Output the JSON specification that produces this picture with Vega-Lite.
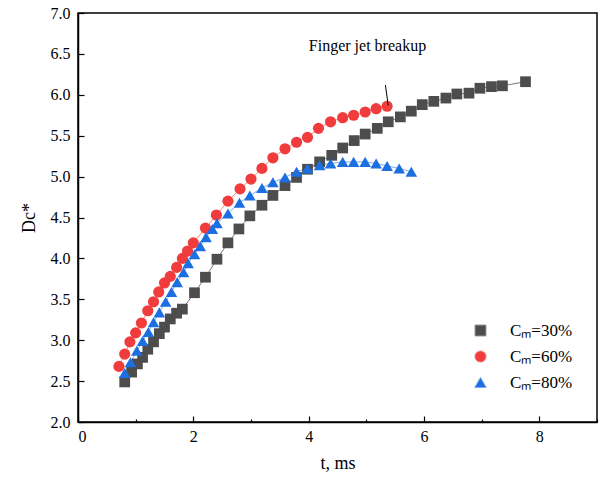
{
  "$schema": "https://vega.github.io/schema/vega-lite/v6.json",
  "width": 519,
  "height": 409,
  "autosize": {"type": "none"},
  "padding": {"left": 78, "top": 13, "right": 4, "bottom": 57},
  "background": "white",
  "config": {
    "view": {"stroke": "black", "strokeWidth": 1.5},
    "font": "Liberation Serif",
    "axis": {"grid": false, "domainColor": "black", "domainWidth": 1.5, "tickColor": "black", "tickWidth": 1.2, "labelFont": "Liberation Serif", "labelFontSize": 16, "labelColor": "black", "titleFont": "Liberation Serif", "titleFontSize": 18, "titleFontWeight": "normal", "titleColor": "black"},
    "legend": {"orient": "none", "legendX": 394, "legendY": 309, "symbolSize": 144, "rowPadding": 8, "labelOffset": 21, "labelFont": "Liberation Serif", "labelFontSize": 17, "labelColor": "black", "padding": 0}
  },
  "datasets": {
    "series": [
      {"s": "30%", "t": 0.81, "d": 2.49}, {"s": "30%", "t": 0.93, "d": 2.61}, {"s": "30%", "t": 1.03, "d": 2.71}, {"s": "30%", "t": 1.12, "d": 2.79}, {"s": "30%", "t": 1.21, "d": 2.89}, {"s": "30%", "t": 1.31, "d": 2.98}, {"s": "30%", "t": 1.41, "d": 3.08}, {"s": "30%", "t": 1.50, "d": 3.16}, {"s": "30%", "t": 1.60, "d": 3.26}, {"s": "30%", "t": 1.71, "d": 3.33}, {"s": "30%", "t": 1.81, "d": 3.38}, {"s": "30%", "t": 2.02, "d": 3.58}, {"s": "30%", "t": 2.21, "d": 3.77}, {"s": "30%", "t": 2.41, "d": 3.99}, {"s": "30%", "t": 2.60, "d": 4.19}, {"s": "30%", "t": 2.79, "d": 4.36}, {"s": "30%", "t": 2.98, "d": 4.52}, {"s": "30%", "t": 3.19, "d": 4.65}, {"s": "30%", "t": 3.38, "d": 4.77}, {"s": "30%", "t": 3.59, "d": 4.89}, {"s": "30%", "t": 3.79, "d": 4.99}, {"s": "30%", "t": 3.98, "d": 5.09}, {"s": "30%", "t": 4.19, "d": 5.18}, {"s": "30%", "t": 4.40, "d": 5.26}, {"s": "30%", "t": 4.59, "d": 5.35}, {"s": "30%", "t": 4.79, "d": 5.44}, {"s": "30%", "t": 4.98, "d": 5.52}, {"s": "30%", "t": 5.19, "d": 5.59}, {"s": "30%", "t": 5.38, "d": 5.67}, {"s": "30%", "t": 5.59, "d": 5.73}, {"s": "30%", "t": 5.78, "d": 5.80}, {"s": "30%", "t": 5.97, "d": 5.88}, {"s": "30%", "t": 6.17, "d": 5.92}, {"s": "30%", "t": 6.38, "d": 5.96}, {"s": "30%", "t": 6.57, "d": 6.01}, {"s": "30%", "t": 6.78, "d": 6.02}, {"s": "30%", "t": 6.97, "d": 6.08}, {"s": "30%", "t": 7.17, "d": 6.10}, {"s": "30%", "t": 7.36, "d": 6.11}, {"s": "30%", "t": 7.76, "d": 6.16},
      {"s": "60%", "t": 0.71, "d": 2.68}, {"s": "60%", "t": 0.81, "d": 2.83}, {"s": "60%", "t": 0.90, "d": 2.98}, {"s": "60%", "t": 1.00, "d": 3.09}, {"s": "60%", "t": 1.10, "d": 3.21}, {"s": "60%", "t": 1.21, "d": 3.36}, {"s": "60%", "t": 1.31, "d": 3.47}, {"s": "60%", "t": 1.40, "d": 3.59}, {"s": "60%", "t": 1.50, "d": 3.70}, {"s": "60%", "t": 1.60, "d": 3.78}, {"s": "60%", "t": 1.71, "d": 3.89}, {"s": "60%", "t": 1.81, "d": 4.00}, {"s": "60%", "t": 1.90, "d": 4.09}, {"s": "60%", "t": 2.00, "d": 4.19}, {"s": "60%", "t": 2.21, "d": 4.37}, {"s": "60%", "t": 2.40, "d": 4.53}, {"s": "60%", "t": 2.60, "d": 4.70}, {"s": "60%", "t": 2.81, "d": 4.85}, {"s": "60%", "t": 3.00, "d": 4.97}, {"s": "60%", "t": 3.19, "d": 5.10}, {"s": "60%", "t": 3.38, "d": 5.23}, {"s": "60%", "t": 3.59, "d": 5.34}, {"s": "60%", "t": 3.79, "d": 5.42}, {"s": "60%", "t": 3.98, "d": 5.48}, {"s": "60%", "t": 4.17, "d": 5.59}, {"s": "60%", "t": 4.38, "d": 5.67}, {"s": "60%", "t": 4.59, "d": 5.72}, {"s": "60%", "t": 4.78, "d": 5.75}, {"s": "60%", "t": 4.98, "d": 5.79}, {"s": "60%", "t": 5.17, "d": 5.83}, {"s": "60%", "t": 5.36, "d": 5.86},
      {"s": "80%", "t": 0.81, "d": 2.60}, {"s": "80%", "t": 0.91, "d": 2.73}, {"s": "80%", "t": 1.02, "d": 2.87}, {"s": "80%", "t": 1.12, "d": 2.99}, {"s": "80%", "t": 1.22, "d": 3.10}, {"s": "80%", "t": 1.31, "d": 3.22}, {"s": "80%", "t": 1.41, "d": 3.34}, {"s": "80%", "t": 1.52, "d": 3.47}, {"s": "80%", "t": 1.62, "d": 3.59}, {"s": "80%", "t": 1.72, "d": 3.71}, {"s": "80%", "t": 1.83, "d": 3.83}, {"s": "80%", "t": 1.91, "d": 3.94}, {"s": "80%", "t": 2.02, "d": 4.05}, {"s": "80%", "t": 2.12, "d": 4.15}, {"s": "80%", "t": 2.22, "d": 4.26}, {"s": "80%", "t": 2.33, "d": 4.36}, {"s": "80%", "t": 2.41, "d": 4.43}, {"s": "80%", "t": 2.60, "d": 4.55}, {"s": "80%", "t": 2.80, "d": 4.68}, {"s": "80%", "t": 2.98, "d": 4.77}, {"s": "80%", "t": 3.19, "d": 4.86}, {"s": "80%", "t": 3.38, "d": 4.93}, {"s": "80%", "t": 3.59, "d": 4.99}, {"s": "80%", "t": 3.79, "d": 5.06}, {"s": "80%", "t": 3.98, "d": 5.10}, {"s": "80%", "t": 4.19, "d": 5.14}, {"s": "80%", "t": 4.38, "d": 5.16}, {"s": "80%", "t": 4.59, "d": 5.18}, {"s": "80%", "t": 4.78, "d": 5.18}, {"s": "80%", "t": 4.98, "d": 5.18}, {"s": "80%", "t": 5.17, "d": 5.16}, {"s": "80%", "t": 5.36, "d": 5.13}, {"s": "80%", "t": 5.57, "d": 5.10}, {"s": "80%", "t": 5.78, "d": 5.06}
    ],
    "note": [{"t": 5.02, "d": 6.6, "t2": 5.33, "d2": 6.12, "t3": 5.38, "d3": 5.87, "label": "Finger jet breakup"}]
  },
  "layer": [
    {
      "data": {"name": "series"},
      "mark": {"type": "line", "strokeWidth": 1},
      "encoding": {
        "x": {"field": "t", "type": "quantitative", "scale": {"domain": [0, 9], "nice": false, "zero": false},
          "axis": {"title": "t, ms", "values": [0, 1, 2, 3, 4, 5, 6, 7, 8, 9], "labelExpr": "datum.value % 2 === 0 && datum.value < 9 ? format(datum.value, 'd') : ''", "tickSize": {"condition": {"test": "datum.value % 2 === 0", "value": -6}, "value": -3}, "labelPadding": 12, "titlePadding": 10}},
        "y": {"field": "d", "type": "quantitative", "scale": {"domain": [2, 7], "nice": false, "zero": false},
          "axis": {"title": "Dc*", "values": [2, 2.25, 2.5, 2.75, 3, 3.25, 3.5, 3.75, 4, 4.25, 4.5, 4.75, 5, 5.25, 5.5, 5.75, 6, 6.25, 6.5, 6.75, 7], "labelExpr": "(datum.value * 2) % 1 === 0 ? format(datum.value, '.1f') : ''", "tickSize": {"condition": {"test": "(datum.value * 2) % 1 === 0", "value": -6}, "value": -3}, "labelPadding": 14, "titlePadding": 12}},
        "stroke": {"field": "s", "type": "nominal", "scale": {"domain": ["30%", "60%", "80%"], "range": ["#7a7a7a", "#f28a8a", "#7eaaf0"]},
          "legend": {"title": null, "labelExpr": "'Cₘ=' + datum.label",
            "encode": {"symbols": {"update": {
              "shape": {"signal": "datum.value === '30%' ? 'M-3.5,0H3.5M-0.45,-0.45H0.45V0.45H-0.45Z' : datum.value === '60%' ? 'M-3.5,0H3.5M-0.5,0A0.5,0.5 0 1,0 0.5,0A0.5,0.5 0 1,0 -0.5,0Z' : 'M-3.5,0.2H3.5M0,-0.55L0.62,0.45H-0.62Z'"},
              "stroke": {"signal": "datum.value === '30%' ? '#7a7a7a' : datum.value === '60%' ? '#f28a8a' : '#7eaaf0'"},
              "fill": {"signal": "datum.value === '30%' ? '#4d4d4d' : datum.value === '60%' ? '#f03c3c' : '#1c6fe0'"},
              "size": {"value": 144}, "strokeWidth": {"value": 1}, "opacity": {"value": 1}
            }}}}},
        "detail": {"field": "s"}
      }
    },
    {
      "data": {"name": "series"},
      "mark": {"type": "point", "filled": true, "opacity": 1},
      "encoding": {
        "x": {"field": "t", "type": "quantitative"},
        "y": {"field": "d", "type": "quantitative"},
        "size": {"field": "s", "type": "nominal", "scale": {"domain": ["30%", "60%", "80%"], "range": [115, 135, 175]},
          "legend": {"title": null, "labelExpr": "'Cₘ=' + datum.label",
            "encode": {"symbols": {"update": {
              "shape": {"signal": "datum.value === '30%' ? 'M-3.5,0H3.5M-0.45,-0.45H0.45V0.45H-0.45Z' : datum.value === '60%' ? 'M-3.5,0H3.5M-0.5,0A0.5,0.5 0 1,0 0.5,0A0.5,0.5 0 1,0 -0.5,0Z' : 'M-3.5,0.2H3.5M0,-0.55L0.62,0.45H-0.62Z'"},
              "stroke": {"signal": "datum.value === '30%' ? '#7a7a7a' : datum.value === '60%' ? '#f28a8a' : '#7eaaf0'"},
              "fill": {"signal": "datum.value === '30%' ? '#4d4d4d' : datum.value === '60%' ? '#f03c3c' : '#1c6fe0'"},
              "size": {"value": 144}, "strokeWidth": {"value": 1}, "opacity": {"value": 1}
            }}}}},
        "color": {"field": "s", "type": "nominal", "scale": {"domain": ["30%", "60%", "80%"], "range": ["#4d4d4d", "#f03c3c", "#1c6fe0"]},
          "legend": {"title": null, "labelExpr": "'Cₘ=' + datum.label",
            "encode": {"symbols": {"update": {
              "shape": {"signal": "datum.value === '30%' ? 'M-3.5,0H3.5M-0.45,-0.45H0.45V0.45H-0.45Z' : datum.value === '60%' ? 'M-3.5,0H3.5M-0.5,0A0.5,0.5 0 1,0 0.5,0A0.5,0.5 0 1,0 -0.5,0Z' : 'M-3.5,0.2H3.5M0,-0.55L0.62,0.45H-0.62Z'"},
              "stroke": {"signal": "datum.value === '30%' ? '#7a7a7a' : datum.value === '60%' ? '#f28a8a' : '#7eaaf0'"},
              "fill": {"signal": "datum.value === '30%' ? '#4d4d4d' : datum.value === '60%' ? '#f03c3c' : '#1c6fe0'"},
              "size": {"value": 144}, "strokeWidth": {"value": 1}, "opacity": {"value": 1}
            }}}}},
        "shape": {"field": "s", "type": "nominal", "scale": {"domain": ["30%", "60%", "80%"], "range": ["square", "circle", "triangle-up"]},
          "legend": {"title": null, "labelExpr": "'Cₘ=' + datum.label",
            "encode": {"symbols": {"update": {
              "shape": {"signal": "datum.value === '30%' ? 'M-3.5,0H3.5M-0.45,-0.45H0.45V0.45H-0.45Z' : datum.value === '60%' ? 'M-3.5,0H3.5M-0.5,0A0.5,0.5 0 1,0 0.5,0A0.5,0.5 0 1,0 -0.5,0Z' : 'M-3.5,0.2H3.5M0,-0.55L0.62,0.45H-0.62Z'"},
              "stroke": {"signal": "datum.value === '30%' ? '#7a7a7a' : datum.value === '60%' ? '#f28a8a' : '#7eaaf0'"},
              "fill": {"signal": "datum.value === '30%' ? '#4d4d4d' : datum.value === '60%' ? '#f03c3c' : '#1c6fe0'"},
              "size": {"value": 144}, "strokeWidth": {"value": 1}, "opacity": {"value": 1}
            }}}}}
      }
    },
    {
      "data": {"name": "note"},
      "mark": {"type": "text", "font": "Liberation Serif", "fontSize": 16, "color": "black", "align": "center", "baseline": "middle"},
      "encoding": {
        "x": {"field": "t", "type": "quantitative"},
        "y": {"field": "d", "type": "quantitative"},
        "text": {"field": "label"}
      }
    },
    {
      "data": {"name": "note"},
      "mark": {"type": "rule", "color": "black", "strokeWidth": 1},
      "encoding": {
        "x": {"field": "t2", "type": "quantitative"},
        "y": {"field": "d2", "type": "quantitative"},
        "x2": {"field": "t3"},
        "y2": {"field": "d3"}
      }
    }
  ]
}
